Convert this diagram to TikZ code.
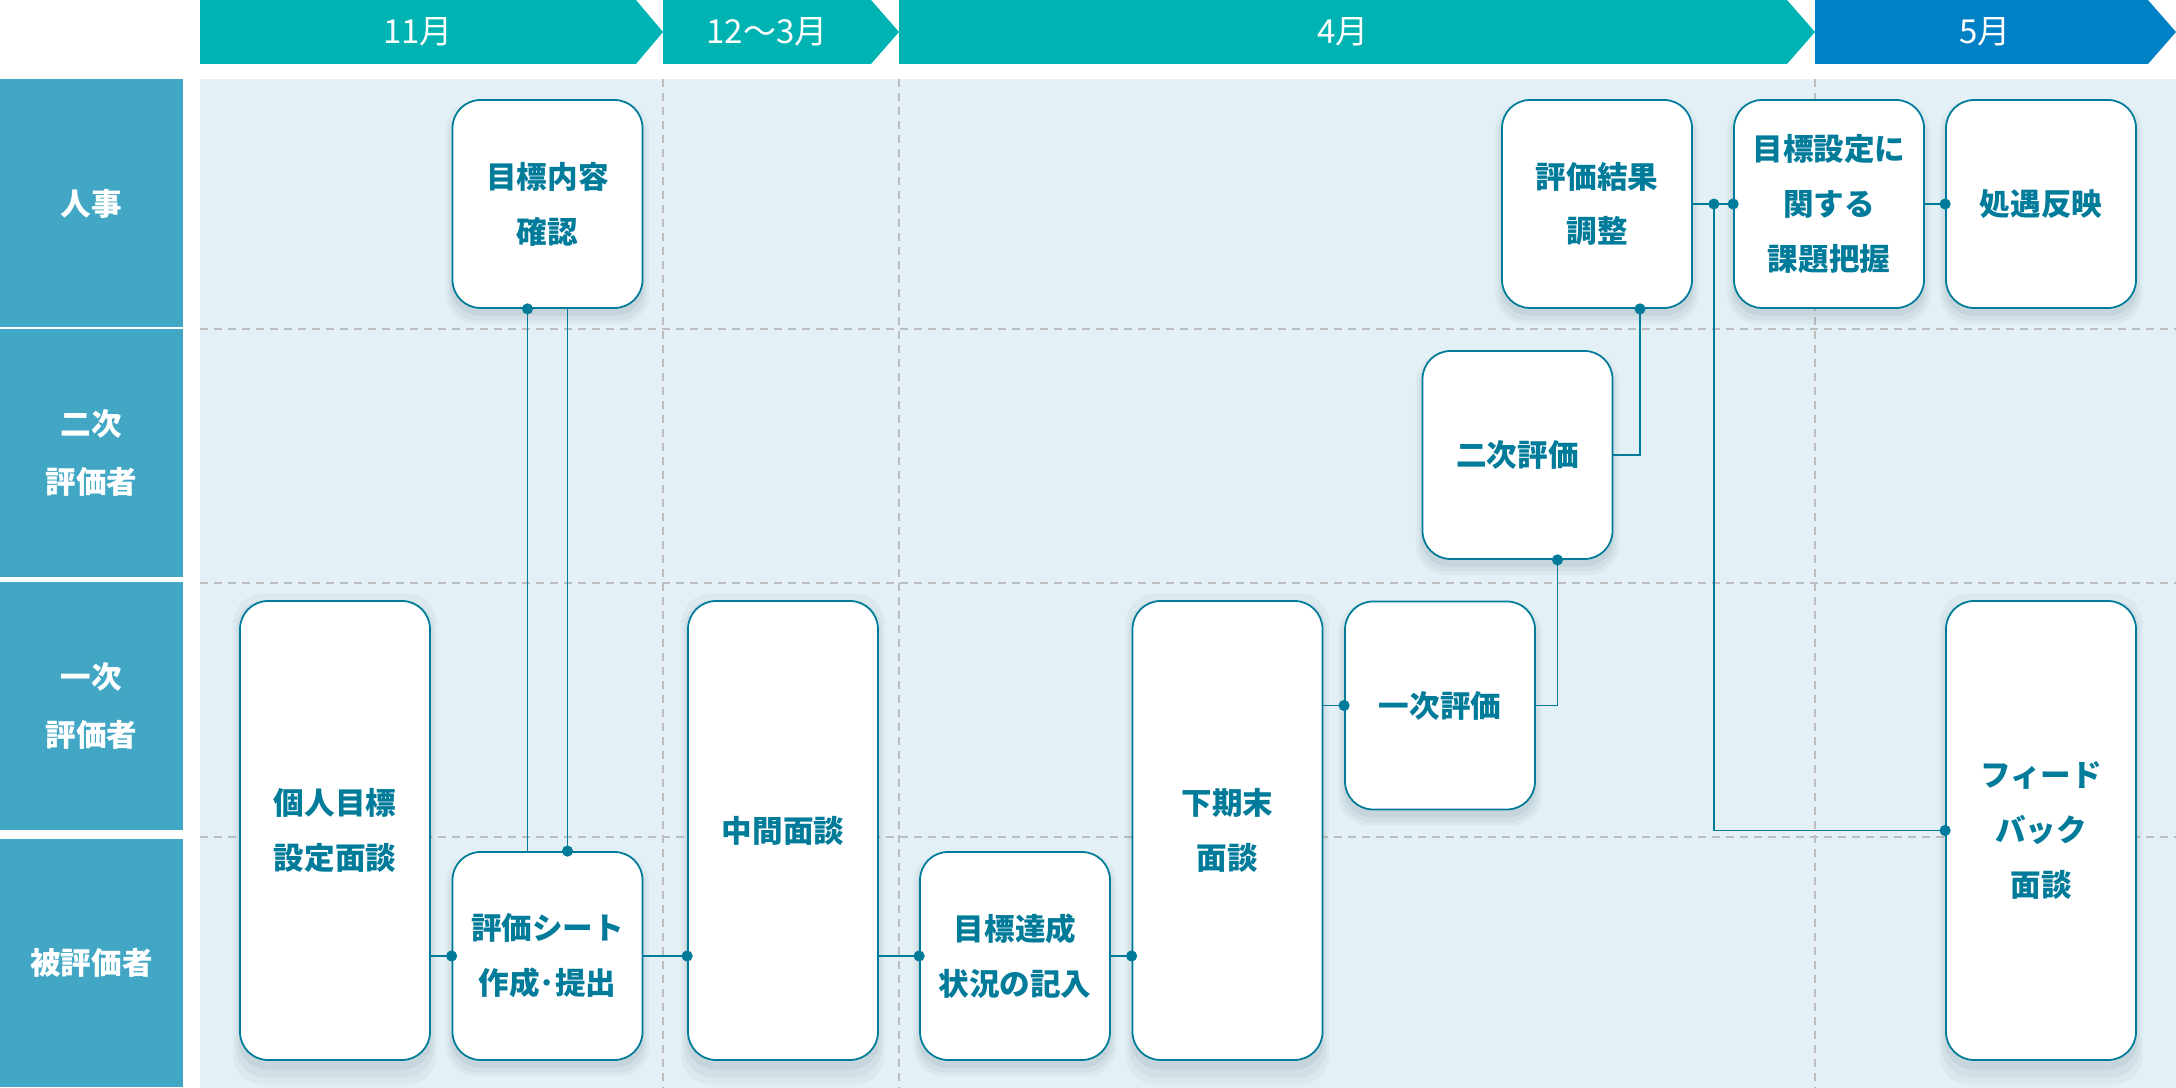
\documentclass[tikz,border=0pt]{standalone}
\usepackage{fontspec}
\setmainfont{Noto Sans CJK JP}
\usetikzlibrary{arrows.meta, shadows}

\definecolor{headc}{RGB}{0,179,179}
\definecolor{maync}{RGB}{0,128,197}
\definecolor{lanec}{RGB}{66,167,197}
\definecolor{linec}{RGB}{0,123,154}
\definecolor{bgc}{RGB}{227,240,245}
\definecolor{dashc}{RGB}{190,190,190}
\definecolor{shadec}{RGB}{40,70,85}

\begin{document}
\begin{tikzpicture}[x=0.1mm, y=-0.1mm,
  box/.style={draw=linec, line width=0.5pt, fill=white, rounded corners=2.8mm,
    minimum width=19mm, minimum height=20.8mm, align=center, text=linec,
    font=\bfseries\fontsize{8.7}{15.6}\selectfont,
    drop shadow={shadow xshift=0pt, shadow yshift=-0.8mm, shadow scale=1.07, fill=shadec, opacity=0.04},
    drop shadow={shadow xshift=0pt, shadow yshift=-0.8mm, shadow scale=1.04, fill=shadec, opacity=0.05},
    drop shadow={shadow xshift=0pt, shadow yshift=-0.6mm, shadow scale=1.015, fill=shadec, opacity=0.07}},
  tall/.style={box, minimum height=45.9mm},
  lanelabel/.style={fill=lanec, text=white, minimum width=18.3mm, minimum height=24.8mm,
    inner sep=0pt, align=center, font=\bfseries\fontsize{8.7}{16.5}\selectfont},
  month/.style={text=white, font=\fontsize{9.4}{11}\selectfont},
  sepline/.style={dashc, line width=0.5pt, dash pattern=on 0.8mm off 0.6mm},
  link/.style={draw=linec, line width=0.5pt, -{Circle[length=1.1mm]}, shorten >=-0.55mm}]

  \useasboundingbox (0,0) rectangle (2176,1088);

  % header
  \fill[headc] (200,0) -- (636,0) -- (663,32) -- (636,64) -- (200,64) -- cycle;
  \fill[headc] (663,0) -- (871,0) -- (899,32) -- (871,64) -- (663,64) -- cycle;
  \fill[headc] (899,0) -- (1787,0) -- (1815,32) -- (1787,64) -- (899,64) -- cycle;
  \fill[maync] (1815,0) -- (2148,0) -- (2176,32) -- (2148,64) -- (1815,64) -- cycle;
  \node[month] (m11) at (418,32) {11月};
  \node[month] (m12) at (767,32) {12〜3月};
  \node[month] (m4) at (1343,32) {4月};
  \node[month] (m5) at (1985,32) {5月};

  % lanes
  \node[lanelabel] (jinji) at (91.5,203.5) {人事};
  \node[lanelabel] (nijisha) at (91.5,453) {二次\\評価者};
  \node[lanelabel] (ichijisha) at (91.5,706) {一次\\評価者};
  \node[lanelabel] (hisha) at (91.5,963) {被評価者};

  \fill[bgc] (200,79) rectangle (2176,1088);
  \foreach \y in {329,583,837}
    \draw[sepline] (200,\y) -- (2176,\y);
  \foreach \x in {663,899,1815}
    \draw[sepline] (\x,79) -- (\x,1088);

  % boxes
  \node[box] (naiyo) at (547.5,204) {目標内容\\確認};
  \node[box] (kekka) at (1597,204) {評価結果\\調整};
  \node[box] (kadai) at (1829,204) {目標設定に\\関する\\課題把握};
  \node[box] (shogu) at (2041,204) {処遇反映};
  \node[box] (niji) at (1517.5,455) {二次評価};
  \node[box] (ichiji) at (1440,705.5) {一次評価};
  \node[tall] (kojin) at (335,830.5) {個人目標\\設定面談};
  \node[box] (sheet) at (547.5,956) {評価シート\\作成･提出};
  \node[tall] (chukan) at (783,830.5) {中間面談};
  \node[box] (tassei) at (1015,956) {目標達成\\状況の記入};
  \node[tall] (kimatsu) at (1227.5,830.5) {下期末\\面談};
  \node[tall] (fb) at (2041,830.5) {フィード\\バック\\面談};

  % connectors
  \draw[link] (kojin.east |- sheet.west) -- (sheet.west);
  \draw[link] ([xshift=-2mm]sheet.north) -- ([xshift=-2mm]naiyo.south);
  \draw[link] ([xshift=2mm]naiyo.south) -- ([xshift=2mm]sheet.north);
  \draw[link] (sheet.east) -- (chukan.west |- sheet.east);
  \draw[link] (chukan.east |- tassei.west) -- (tassei.west);
  \draw[link] (tassei.east) -- (kimatsu.west |- tassei.east);
  \draw[link] (kimatsu.east |- ichiji.west) -- (ichiji.west);
  \draw[link] (ichiji.east) -| ([xshift=4mm]niji.south);
  \draw[link] (niji.east) -| ([xshift=4.3mm]kekka.south);
  \coordinate (junc) at ([xshift=2.1mm]kekka.east);
  \draw[link] (kekka.east) -- (kadai.west);
  \fill[linec] (junc) circle (0.55mm);
  \draw[link] (junc) |- (fb.west);
  \draw[link] (kadai.east) -- (shogu.west);
\end{tikzpicture}
\end{document}
